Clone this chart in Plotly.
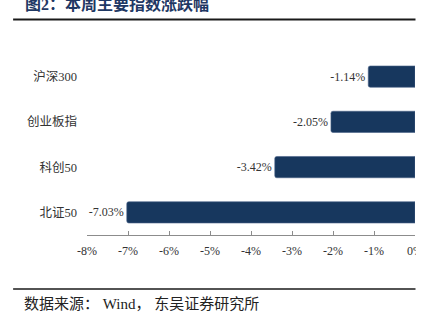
import plotly.graph_objects as go

categories = ["北证50", "科创50", "创业板指", "沪深300"]
values = [-7.03, -3.42, -2.05, -1.14]
tick_vals = [-8, -7, -6, -5, -4, -3, -2, -1, 0]
tick_text = ["-8%", "-7%", "-6%", "-5%", "-4%", "-3%", "-2%", "-1%", "0%"]
title_text = "图2：本周主要指数涨跌幅"
source_text = "数据来源： Wind， 东吴证券研究所"

W, H = 440, 322
L, R, T, B = 87, 24.5, 54, 87
pw = W - L - R
ph = H - T - B

def px2x(px):
    return (px - L) / pw

def py2y(py):
    return (H - B - py) / ph

serif = "Liberation Serif, Noto Sans CJK SC, serif"

fig = go.Figure(go.Bar(
    y=categories, x=values, orientation="h",
    marker=dict(color="#17375e", line=dict(color="#4a6388", width=0.6)),
    text=[f"{v:.2f}%" for v in values],
    textposition="outside",
    textfont=dict(family=serif, size=12, color="#333333"),
    cliponaxis=False,
))

fig.update_layout(
    width=W, height=H,
    margin=dict(l=L, r=R, t=T, b=B, autoexpand=False),
    paper_bgcolor="white", plot_bgcolor="white",
    bargap=0.53, barcornerradius=2,
    showlegend=False,
    xaxis=dict(range=[-8, 0], tickvals=tick_vals, ticktext=tick_text,
               showgrid=False, zeroline=False, showline=True,
               linecolor="#8c8c8c", linewidth=1,
               ticks="inside", ticklen=4, tickcolor="#8c8c8c",
               tickfont=dict(family=serif, size=12, color="#333333"),
               ticklabelstandoff=5, fixedrange=True),
    yaxis=dict(showgrid=False, zeroline=False, showline=False, ticks="",
               tickfont=dict(family=serif, size=12.5, color="#333333"),
               ticklabelstandoff=9, fixedrange=True),
)

fig.add_annotation(text=f"<b>{title_text}</b>", xref="paper", yref="paper",
                   x=px2x(23), y=py2y(3.5), xanchor="left", yanchor="middle",
                   showarrow=False,
                   font=dict(family="Liberation Serif, Noto Sans CJK SC", size=16, color="#1f3864"))
fig.add_annotation(text=source_text, xref="paper", yref="paper",
                   x=px2x(22), y=py2y(304), xanchor="left", yanchor="middle",
                   showarrow=False,
                   font=dict(family=serif, size=15, color="#222222"))
fig.add_shape(type="line", xref="paper", yref="paper",
              x0=px2x(13), x1=px2x(416), y0=py2y(19.5), y1=py2y(19.5),
              line=dict(color="#1a1a1a", width=2))
fig.add_shape(type="line", xref="paper", yref="paper",
              x0=px2x(13), x1=px2x(416), y0=py2y(289), y1=py2y(289),
              line=dict(color="#1a1a1a", width=1.5))
# page edge of the original crop: everything right of x=416 is blank
fig.add_shape(type="rect", xref="paper", yref="paper", layer="above",
              x0=px2x(416.5), x1=px2x(441), y0=py2y(-1), y1=py2y(323),
              line=dict(width=0), fillcolor="white")

fig.write_html("out.html", config={"displayModeBar": False})
